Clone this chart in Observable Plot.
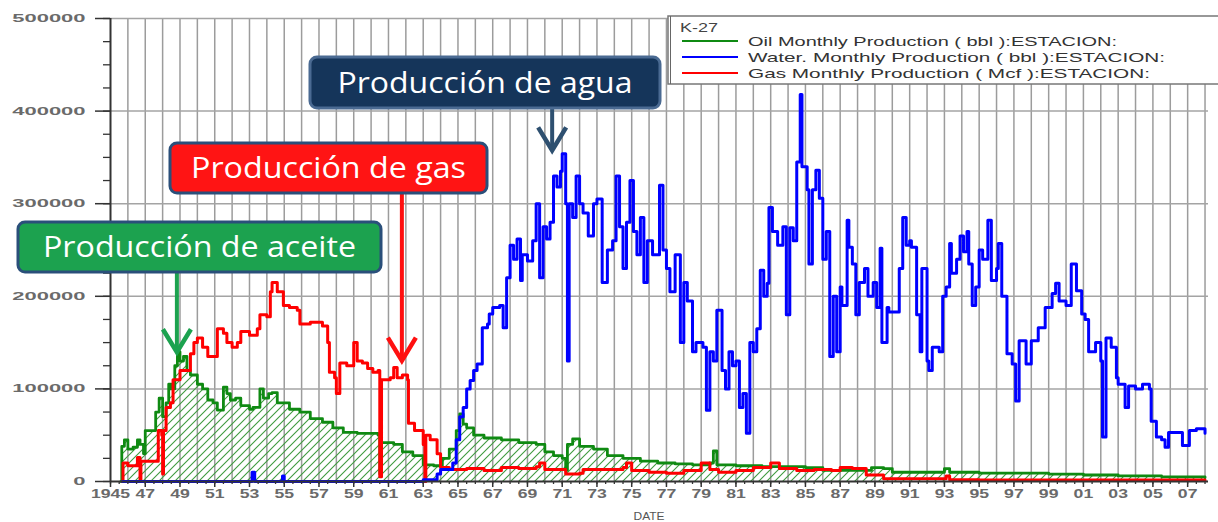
<!DOCTYPE html>
<html><head><meta charset="utf-8">
<script src="https://cdn.jsdelivr.net/npm/d3@7"></script>
<script src="https://cdn.jsdelivr.net/npm/@observablehq/plot@0.6"></script>
<style>body{margin:0;background:#fff;overflow:hidden}</style>
</head><body><div id="chart"></div>
<script>
// ---- data (year, monthly production) ----
const oilSeries = [
[1945.6,0],[1945.65,38000],[1945.8,45000],[1946.0,35000],[1946.3,37000],[1946.55,45000],[1946.7,40000],[1946.9,30000],
[1947.0,55000],[1947.4,55000],[1947.6,75000],[1947.8,90000],[1948.0,70000],[1948.2,85000],[1948.35,105000],[1948.5,100000],
[1948.7,125000],[1948.85,140000],[1949.0,130000],[1949.2,135000],[1949.4,120000],[1949.6,115000],[1950.0,105000],[1950.3,100000],
[1950.6,88000],[1950.9,85000],[1951.15,77000],[1951.5,102000],[1951.7,95000],[1951.9,88000],[1952.2,90000],[1952.5,82000],
[1953.0,78000],[1953.2,80000],[1953.6,100000],[1953.8,90000],[1954.1,95000],[1954.3,96000],[1954.6,85000],[1955.3,78000],
[1955.9,75000],[1956.5,68000],[1957.2,64000],[1957.8,58000],[1958.4,53000],[1959.2,52000],[1959.9,52000],[1960.4,50000],
[1960.5,8000],[1960.6,42000],[1961.3,40000],[1961.8,32000],[1962.4,28000],[1963.0,18000],[1963.6,17000],[1964.1,25000],
[1964.5,35000],[1964.9,55000],[1965.1,73000],[1965.3,62000],[1965.5,58000],[1965.9,50000],[1966.5,47000],[1967.5,45000],
[1968.5,42000],[1969.5,40000],[1970.0,32000],[1970.5,28000],[1971.0,25000],[1971.2,12000],[1971.3,40000],[1971.6,46000],
[1972.0,38000],[1972.8,35000],[1973.6,28000],[1974.5,25000],[1975.5,22000],[1976.5,20000],[1977.5,19000],[1978.5,18000],
[1979.5,20000],[1979.7,33000],[1979.9,18000],[1981.0,17000],[1982.5,16000],[1984.0,16000],[1985.0,15000],[1986.0,12000],
[1987.0,12000],[1988.0,12000],[1988.8,15000],[1989.5,14000],[1990.0,10000],[1992.0,10000],[1993.0,14000],[1993.3,10000],
[1995.0,9000],[1997.0,9000],[1999.0,8000],[2001.0,7000],[2003.0,6000],[2004.5,6000],[2005.5,5000],[2007.0,5000],[2008.0,4000]
];
const gasSeries = [
[1945.7,0],[1945.72,20000],[1946.0,17000],[1946.3,17000],[1946.55,26000],[1946.7,0],[1946.75,22000],[1947.3,22000],
[1947.7,22000],[1947.75,55000],[1947.95,50000],[1948.0,8000],[1948.05,55000],[1948.2,80000],[1948.45,85000],[1948.6,110000],
[1948.75,110000],[1949.0,120000],[1949.4,120000],[1949.6,138000],[1949.8,150000],[1950.0,155000],[1950.3,145000],[1950.6,135000],
[1950.9,135000],[1951.15,165000],[1951.5,160000],[1951.7,150000],[1952.0,145000],[1952.3,150000],[1952.5,162000],[1953.0,158000],
[1953.45,165000],[1953.6,180000],[1954.0,178000],[1954.2,205000],[1954.3,215000],[1954.6,205000],[1954.8,205000],[1954.95,190000],
[1955.3,188000],[1955.75,185000],[1955.9,170000],[1956.5,172000],[1957.2,168000],[1957.5,150000],[1957.6,118000],[1957.9,112000],
[1958.0,95000],[1958.2,128000],[1958.6,125000],[1959.0,150000],[1959.2,130000],[1959.5,128000],[1959.8,122000],[1960.1,118000],
[1960.4,120000],[1960.5,5000],[1960.6,110000],[1961.1,112000],[1961.3,123000],[1961.5,112000],[1961.8,115000],[1962.1,110000],
[1962.15,63000],[1962.5,55000],[1962.8,55000],[1963.0,40000],[1963.1,0],[1963.15,50000],[1963.4,45000],[1963.8,30000],
[1964.0,15000],[1964.5,13000],[1965.5,14000],[1966.5,12000],[1967.5,15000],[1968.5,14000],[1969.5,16000],[1969.7,20000],
[1970.0,13000],[1971.2,8000],[1972.0,9000],[1972.2,13000],[1973.5,13000],[1974.5,15000],[1974.7,20000],[1975.0,12000],
[1976.0,10000],[1977.0,9000],[1978.0,12000],[1979.0,20000],[1979.5,13000],[1980.0,10000],[1981.0,12000],[1982.0,15000],
[1983.0,20000],[1983.5,14000],[1984.5,12000],[1985.5,13000],[1986.5,12000],[1987.0,15000],[1987.7,14000],[1988.5,7000],
[1989.5,3000],[1991.0,3000],[1993.1,6000],[1993.3,2000],[1995.0,1500],[2000.0,1500],[2008.0,1000]
];
const waterSeries = [
[1945.7,0],[1953.1,0],[1953.15,10000],[1953.3,0],[1954.85,0],[1954.9,6000],[1955.0,0],[1962.8,0],[1963.0,2000],[1963.8,8000],
[1964.0,13000],[1964.7,20000],[1964.9,45000],[1965.1,70000],[1965.3,80000],[1965.5,100000],[1965.7,109000],[1965.9,120000],
[1966.1,127000],[1966.4,166000],[1966.7,170000],[1966.8,181000],[1967.0,188000],[1967.4,190000],[1967.6,166000],[1967.8,220000],
[1968.0,255000],[1968.2,240000],[1968.4,262000],[1968.6,217000],[1968.7,245000],[1969.0,238000],[1969.3,260000],[1969.5,300000],
[1969.7,220000],[1969.9,275000],[1970.1,262000],[1970.3,280000],[1970.5,330000],[1970.7,318000],[1970.9,335000],[1971.0,354000],
[1971.2,300000],[1971.3,130000],[1971.4,300000],[1971.6,285000],[1971.8,330000],[1972.0,300000],[1972.2,290000],[1972.5,265000],
[1972.8,300000],[1973.0,305000],[1973.3,215000],[1973.6,250000],[1973.9,260000],[1974.1,330000],[1974.3,275000],[1974.5,230000],
[1974.7,280000],[1974.9,325000],[1975.1,270000],[1975.3,245000],[1975.5,285000],[1975.7,215000],[1975.9,260000],[1976.2,245000],
[1976.6,320000],[1976.8,250000],[1977.0,230000],[1977.2,205000],[1977.5,245000],[1977.8,150000],[1978.0,215000],[1978.2,195000],
[1978.5,140000],[1978.7,150000],[1979.1,145000],[1979.3,77000],[1979.5,140000],[1979.7,130000],[1979.9,185000],[1980.2,120000],
[1980.4,100000],[1980.6,140000],[1980.8,125000],[1981.0,130000],[1981.2,80000],[1981.4,95000],[1981.6,52000],[1981.8,150000],
[1982.0,140000],[1982.2,165000],[1982.4,228000],[1982.6,200000],[1982.8,214000],[1982.9,296000],[1983.1,270000],[1983.4,255000],
[1983.7,275000],[1983.9,180000],[1984.1,274000],[1984.3,260000],[1984.5,345000],[1984.7,418000],[1984.8,340000],[1985.1,315000],
[1985.2,235000],[1985.4,315000],[1985.6,336000],[1985.8,306000],[1986.0,240000],[1986.2,270000],[1986.4,135000],[1986.6,200000],
[1986.8,140000],[1987.0,210000],[1987.1,190000],[1987.4,282000],[1987.5,253000],[1987.7,235000],[1987.9,180000],[1988.1,215000],
[1988.4,230000],[1988.6,200000],[1988.9,215000],[1989.1,188000],[1989.3,252000],[1989.4,150000],[1989.7,188000],[1989.8,183000],
[1990.2,183000],[1990.4,230000],[1990.6,285000],[1990.8,255000],[1991.0,260000],[1991.1,253000],[1991.4,180000],[1991.6,140000],
[1991.7,230000],[1992.0,130000],[1992.1,120000],[1992.3,145000],[1992.7,140000],[1992.9,200000],[1993.1,210000],[1993.3,257000],
[1993.4,225000],[1993.7,240000],[1993.9,265000],[1994.1,248000],[1994.3,270000],[1994.4,235000],[1994.6,190000],[1994.8,210000],
[1995.0,250000],[1995.2,240000],[1995.5,282000],[1995.7,217000],[1996.0,230000],[1996.1,257000],[1996.3,200000],[1996.6,138000],
[1996.9,127000],[1997.1,87000],[1997.3,152000],[1997.7,127000],[1998.0,152000],[1998.4,166000],[1998.8,188000],[1999.2,203000],
[1999.4,214000],[1999.6,195000],[2000.0,190000],[2000.3,235000],[2000.6,206000],[2000.9,181000],[2001.1,175000],[2001.3,140000],
[2001.7,150000],[2002.0,130000],[2002.1,48000],[2002.3,155000],[2002.6,145000],[2002.9,112000],[2003.0,105000],[2003.4,80000],
[2003.6,103000],[2004.0,100000],[2004.4,105000],[2004.8,100000],[2004.9,65000],[2005.2,48000],[2005.5,45000],[2005.7,37000],
[2005.9,53000],[2006.5,53000],[2006.7,39000],[2007.1,55000],[2007.5,57000],[2008.0,52000]
];
const legendTitle = "K-27";
const seriesNames = ["Oil Monthly Production ( bbl ):ESTACION:", "Water. Monthly Production ( bbl ):ESTACION:", "Gas Monthly Production ( Mcf ):ESTACION:"];
const seriesColors = ["#0f8a12", "#0000ff", "#ff0000"];
const yMajorTicks = [0, 100000, 200000, 300000, 400000, 500000];
const yMinorTicks = d3.range(0, 500001, 25000);
const xLabelYears = d3.range(1945, 2008, 2);
const xGridYears = d3.range(1946, 2009);
const notes = [
  {label: "Producción de agua", year: 1970.45, value: 357000, fill: "#15355a", border: "#4a6a92", arrow: "#2e5070"},
  {label: "Producción de gas", year: 1961.8, value: 130000, fill: "#ff1414", border: "#2a4f7a", arrow: "#ff1010"},
  {label: "Producción de aceite", year: 1948.85, value: 139000, fill: "#1ca24f", border: "#2a4f7a", arrow: "#1ca24f"}
];
// ---- layout (pixels) for the annotation boxes ----
const boxes = [
  {x: 310, y: 57, w: 350, h: 51, tl: 295},
  {x: 170, y: 143, w: 317, h: 50, tl: 275},
  {x: 18, y: 222, w: 363, h: 50, tl: 313}
];

const rows = s => s.map(([t, v]) => ({t, v}));
const oil = rows(oilSeries), gas = rows(gasSeries), water = rows(waterSeries);

function defs() {
  const d = d3.create("svg:defs");
  const p = d.append("pattern").attr("id", "hatch").attr("patternUnits", "userSpaceOnUse")
    .attr("width", 8).attr("height", 8);
  p.append("path").attr("d", "M-2,2L2,-2M0,8L8,0M6,10L10,6")
    .attr("stroke", "#3f9a3f").attr("stroke-width", 1.1).attr("fill", "none");
  return d.node();
}

function annotations(index, scales) {
  const g = d3.create("svg:g");
  notes.forEach((a, i) => {
    const b = boxes[i];
    const tx = scales.x(a.year), ty = scales.y(a.value);
    g.append("line").attr("x1", tx).attr("x2", tx).attr("y1", b.y + b.h).attr("y2", ty - 2)
      .attr("stroke", a.arrow).attr("stroke-width", 4);
    g.append("path").attr("d", `M${tx - 14},${ty - 23}L${tx},${ty}L${tx + 14},${ty - 23}`)
      .attr("fill", "none").attr("stroke", a.arrow).attr("stroke-width", 4.5).attr("stroke-linejoin", "miter");
    g.append("rect").attr("x", b.x).attr("y", b.y).attr("width", b.w).attr("height", b.h)
      .attr("rx", 7).attr("fill", a.fill).attr("stroke", a.border).attr("stroke-width", 3);
    g.append("text").attr("x", b.x + b.w / 2).attr("y", b.y + b.h / 2 + 10)
      .attr("text-anchor", "middle").attr("fill", "#fff")
      .attr("font-family", "'Open Sans', 'Noto Sans', sans-serif").attr("font-size", 30)
      .attr("textLength", b.tl).attr("lengthAdjust", "spacingAndGlyphs").text(a.label);
  });
  return g.node();
}

function legend() {
  const g = d3.create("svg:g").attr("text-anchor", "start");
  g.append("rect").attr("x", 668).attr("y", 16).attr("width", 600).attr("height", 68)
    .attr("fill", "#fff").attr("stroke", "#777").attr("stroke-width", 1.5);
  g.append("line").attr("x1", 670.5).attr("x2", 670.5).attr("y1", 16).attr("y2", 84).attr("stroke", "#666").attr("stroke-width", 1);
  g.append("text").attr("x", 680).attr("y", 32).attr("font-size", 12).attr("fill", "#444").attr("text-anchor", "start")
    .attr("textLength", 38).attr("lengthAdjust", "spacingAndGlyphs").text(legendTitle);
  const lens = [369, 417, 402];
  seriesNames.forEach((n, i) => {
    const y = 41 + 16 * i;
    g.append("line").attr("x1", 682).attr("x2", 738).attr("y1", y).attr("y2", y)
      .attr("stroke", seriesColors[i]).attr("stroke-width", 2);
    g.append("text").attr("x", 748).attr("y", y + 5).attr("font-size", 13.5).attr("fill", "#333").attr("text-anchor", "start")
      .attr("textLength", lens[i]).attr("lengthAdjust", "spacingAndGlyphs").text(n);
  });
  g.append("text").attr("x", 649).attr("y", 520).attr("text-anchor", "middle").attr("font-size", 10.5)
    .attr("fill", "#555").attr("textLength", 31).attr("lengthAdjust", "spacingAndGlyphs").text("DATE");
  return g.node();
}

const plot = Plot.plot({
  width: 1218, height: 522,
  marginLeft: 110, marginRight: 10, marginTop: 18, marginBottom: 41,
  x: {domain: [1945, 2008.2], axis: null},
  y: {domain: [0, 500000], axis: null},
  style: {fontFamily: "'Liberation Sans', Arial, sans-serif", background: "#fff", overflow: "visible"},
  marks: [
    defs,
    Plot.ruleX(xGridYears, {stroke: "#9c9c9c", strokeWidth: 1.5}),
    Plot.ruleY(yMajorTicks.slice(1), {stroke: "#a4a4a4", strokeWidth: 1.5}),
    Plot.areaY(oil, {x: "t", y: "v", curve: "step-after", fill: "url(#hatch)"}),
    Plot.lineY(oil, {x: "t", y: "v", curve: "step-after", stroke: seriesColors[0], strokeWidth: 2.8}),
    Plot.lineY(gas, {x: "t", y: "v", curve: "step-after", stroke: seriesColors[2], strokeWidth: 3}),
    Plot.lineY(water, {x: "t", y: "v", curve: "step-after", stroke: seriesColors[1], strokeWidth: 3}),
    Plot.axisY({ticks: yMinorTicks, tickSize: 7, tickFormat: () => "", stroke: "#333", strokeWidth: 1.3, label: null}),
    Plot.axisY({ticks: yMajorTicks, tickSize: 15, tickPadding: 10, tickFormat: d3.format("d"),
      fontSize: 11, fontWeight: "bold", fill: "#6a6a6a", stroke: "#333", strokeWidth: 1.5, label: null}),
    Plot.axisX({ticks: d3.range(1945, 2008.5, 0.5), tickSize: 3, tickFormat: () => "", stroke: "#333", strokeWidth: 1.3, label: null}),
    Plot.axisX({ticks: xLabelYears, tickSize: 6, tickPadding: 1,
      tickFormat: d => d === 1945 ? "1945" : String(d % 100).padStart(2, "0"),
      fontSize: 13, fontWeight: "bold", fill: "#6a6a6a", stroke: "#333", strokeWidth: 1.5, label: null}),
    Plot.ruleY([0], {stroke: "#333", strokeWidth: 2}),
    Plot.ruleX([1945], {stroke: "#333", strokeWidth: 2}),
    legend,
    annotations
  ]
});
document.getElementById("chart").append(plot);
plot.querySelectorAll('[aria-label="y-axis tick label"] text').forEach(t => {
  t.setAttribute("textLength", 12.2 * t.textContent.length);
  t.setAttribute("lengthAdjust", "spacingAndGlyphs");
});
plot.querySelectorAll('[aria-label="x-axis tick label"] text').forEach(t => {
  t.setAttribute("textLength", 9.8 * t.textContent.length);
  t.setAttribute("lengthAdjust", "spacingAndGlyphs");
});
</script>
</body></html>
